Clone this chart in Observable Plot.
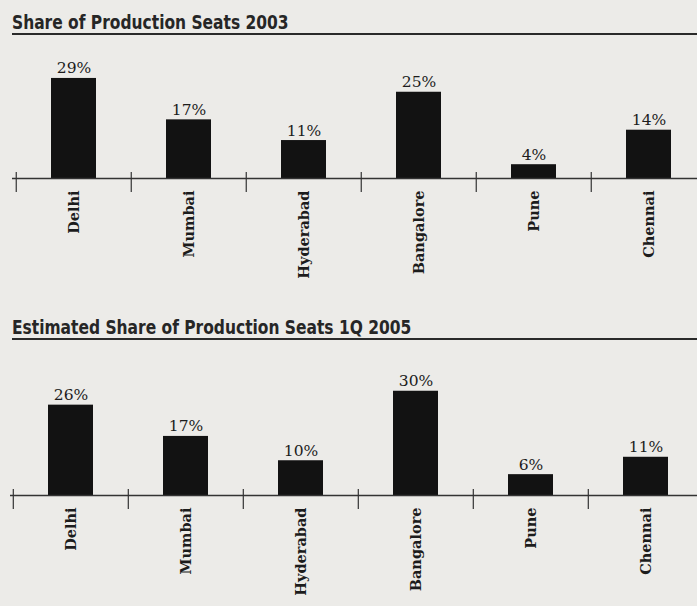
<!DOCTYPE html>
<html><head><meta charset="utf-8">
<script src="https://cdn.jsdelivr.net/npm/d3@7"></script>
<script src="https://cdn.jsdelivr.net/npm/@observablehq/plot@0.6"></script>
<style>
html,body{margin:0;padding:0;background:#ecebe8;}
#wrap{width:697px;height:606px;overflow:hidden;position:relative;background:#ecebe8;}
.title{font-family:"Liberation Sans Narrow","DejaVu Sans Condensed",sans-serif;font-weight:bold;font-size:20px;line-height:22px;color:#262626;border-bottom:2px solid #2a2a2a;margin-left:12px;box-sizing:border-box;white-space:nowrap;}
.title span{display:inline-block;transform:scaleX(0.86);transform-origin:0 0;}
svg{display:block;}
</style></head>
<body><div id="wrap"></div>
<script>
const cities = ["Delhi", "Mumbai", "Hyderabad", "Bangalore", "Pune", "Chennai"];
const share2003 = [29, 17, 11, 25, 4, 14];
const share2005 = [26, 17, 10, 30, 6, 11];
const titles = ["Share of Production Seats 2003", "Estimated Share of Production Seats 1Q 2005"];

function panel(values, title, cfg) {
  const data = cities.map((c, i) => ({city: c, value: values[i], label: values[i] + "%"}));
  const t = document.createElement("div");
  t.className = "title";
  t.style.height = cfg.titleHeight + "px";
  t.style.paddingTop = cfg.titlePad + "px";
  const s = document.createElement("span");
  s.textContent = title;
  t.appendChild(s);
  const width = 697;
  const r0 = cfg.marginLeft, r1 = cfg.marginLeft + 6 * cfg.step;
  const chart = Plot.plot({
    width,
    height: cfg.height,
    marginLeft: cfg.marginLeft,
    marginRight: width - r1,
    marginTop: cfg.marginTop,
    marginBottom: cfg.marginBottom,
    style: {background: "transparent", fontFamily: "'DejaVu Serif', serif", color: "#1c1c1c", overflow: "hidden"},
    x: {domain: cities, paddingInner: 0.61, paddingOuter: 0.305, label: null, axis: null},
    y: {domain: [0, 40], axis: null, label: null},
    marks: [
      Plot.barY(data, {x: "city", y: "value", fill: "#121212"}),
      Plot.ruleY([0], {stroke: "#333", strokeWidth: 1.3, insetLeft: -2}),
      Plot.axisX({tickSize: 20, dx: -(r1 - r0) / 12, dy: -6, text: null, stroke: "#333", strokeWidth: 1.2}),
      Plot.axisX({tickSize: 0, tickPadding: 12, tickRotate: -90, fontSize: 14.5, fontWeight: "bold", fill: "#1c1c1c"}),
      Plot.text(data, {x: "city", y: "value", text: "label", lineAnchor: "bottom", dy: -5, fontSize: 15.5, fill: "#1c1c1c"})
    ]
  });
  const box = document.createElement("div");
  box.appendChild(t);
  box.appendChild(chart);
  return box;
}

const wrap = document.getElementById("wrap");
wrap.appendChild(panel(share2003, titles[0], {titleHeight: 35, titlePad: 11, height: 265, marginLeft: 14, step: 115.5, marginTop: 5, marginBottom: 122}));
wrap.appendChild(panel(share2005, titles[1], {titleHeight: 40, titlePad: 16, height: 266, marginLeft: 12, step: 115.4, marginTop: 16, marginBottom: 111}));
</script>
</body></html>
